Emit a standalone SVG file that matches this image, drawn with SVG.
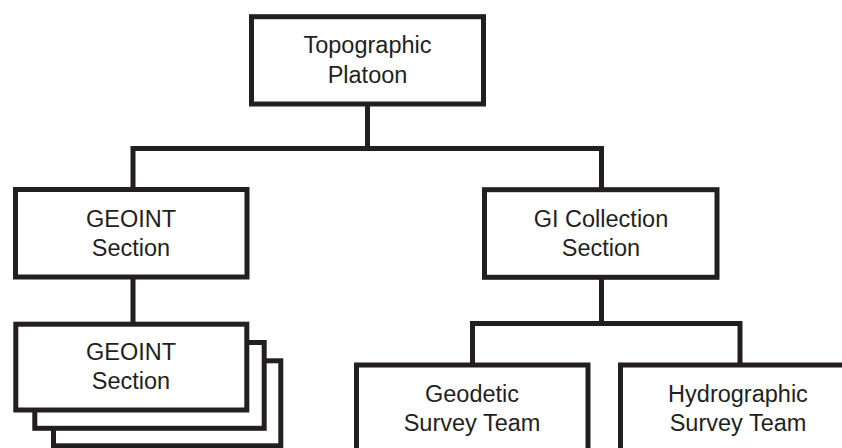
<svg xmlns="http://www.w3.org/2000/svg" width="842" height="448" viewBox="0 0 842 448">
  <style>
    .box { fill: #ffffff; stroke: #231f20; stroke-width: 5; }
    .wire { fill: none; stroke: #231f20; stroke-width: 5; stroke-linejoin: miter; }
    .label { font-family: "Liberation Sans", Arial, Helvetica, sans-serif; font-size: 23.5px; fill: #231f20; text-anchor: middle; }
  </style>
  <rect width="842" height="448" fill="#ffffff"/>

  <!-- connectors -->
  <g id="connectors">
    <polyline class="wire" points="367.5,104 367.5,148.5"/>
    <polyline class="wire" points="133,189.5 133,148.5 601.5,148.5 601.5,189.5"/>
    <polyline class="wire" points="133,277 133,324"/>
    <polyline class="wire" points="601.5,277 601.5,323.5"/>
    <polyline class="wire" points="472.5,365 472.5,323.5 740,323.5 740,365"/>
  </g>

  <!-- platoon HQ -->
  <g id="topographic-platoon">
    <rect class="box" x="251.5" y="16.7" width="232" height="87.3"/>
    <text class="label" x="367.5" y="53.3">Topographic</text>
    <text class="label" x="367.5" y="82.7">Platoon</text>
  </g>

  <!-- sections -->
  <g id="geoint-section">
    <rect class="box" x="15.5" y="189.5" width="231.5" height="87.5"/>
    <text class="label" x="131" y="226.7">GEOINT</text>
    <text class="label" x="131" y="256">Section</text>
  </g>

  <g id="gi-collection-section">
    <rect class="box" x="484.5" y="189.7" width="232.5" height="87.6"/>
    <text class="label" x="601" y="226.9">GI Collection</text>
    <text class="label" x="601" y="256.2">Section</text>
  </g>

  <!-- stacked GEOINT sections (multiple teams) -->
  <g id="geoint-section-stack">
    <rect class="box" x="53.5" y="360.8" width="227.3" height="85"/>
    <rect class="box" x="34.8" y="342.5" width="229.4" height="85.8"/>
    <rect class="box" x="15.8" y="324.2" width="231" height="85.8"/>
    <text class="label" x="131" y="360">GEOINT</text>
    <text class="label" x="131" y="389.3">Section</text>
  </g>

  <!-- survey teams -->
  <g id="geodetic-survey-team">
    <rect class="box" x="356.5" y="365" width="231.5" height="87.5"/>
    <text class="label" x="472" y="402">Geodetic</text>
    <text class="label" x="472" y="431.3">Survey Team</text>
  </g>

  <g id="hydrographic-survey-team">
    <rect class="box" x="620.5" y="365" width="233.5" height="87.5"/>
    <text class="label" x="738" y="402">Hydrographic</text>
    <text class="label" x="738" y="431.3">Survey Team</text>
  </g>
</svg>
